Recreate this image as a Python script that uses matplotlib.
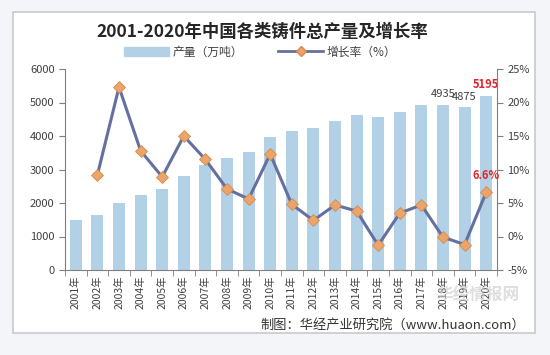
import matplotlib.pyplot as plt
from matplotlib.patches import Rectangle
from matplotlib.lines import Line2D
from matplotlib.ticker import FuncFormatter

plt.rcParams['font.family'] = ['Noto Sans CJK SC', 'DejaVu Sans']

# 数据
years = [f'{y}年' for y in range(2001, 2021)]
output = [1480, 1640, 1987, 2242, 2420, 2810, 3127, 3340, 3530, 3960,
          4150, 4250, 4450, 4620, 4560, 4720, 4940, 4935, 4875, 5195]
growth = [None, 9.2, 22.3, 12.8, 8.9, 15.0, 11.5, 7.1, 5.6, 12.3,
          4.8, 2.4, 4.7, 3.8, -1.3, 3.5, 4.7, -0.1, -1.2, 6.6]

bar_color = '#b3d1e6'
line_color = '#6470a0'
marker_color = '#eba46a'
grey = '#7f7f7f'

fig = plt.figure(figsize=(5.5, 3.55), dpi=100)
fig.patch.set_facecolor('#f3f5f9')

# painel branco com borda
fig.patches.append(Rectangle((13 / 550, 1 - 333 / 355), 522 / 550, 321 / 355,
                             transform=fig.transFigure, facecolor='white',
                             edgecolor='#c9c9c9', lw=1.2, zorder=-5))

ax = fig.add_axes([65 / 550, 1 - 270 / 355, 432 / 550, 201 / 355])
ax.set_facecolor('none')
x = list(range(len(years)))
ax.bar(x, output, width=0.55, color=bar_color, zorder=1)
ax.set_ylim(0, 6000)
ax.set_yticks(range(0, 6001, 1000))
ax.set_xlim(-0.5, len(years) - 0.5)
ax.set_xticks(x)
ax.set_xticklabels(years, rotation=90, fontsize=7.5, color='#404040')
ax.tick_params(axis='x', length=0, pad=4)
ax.set_xticks([i + 0.5 for i in range(-1, len(years))], minor=True)
ax.tick_params(axis='x', which='minor', length=4, color=grey)
ax.tick_params(axis='y', labelsize=8, colors='#404040', length=4, color=grey)
for s in ['top', 'right']:
    ax.spines[s].set_visible(False)
ax.spines['left'].set_color(grey)
ax.spines['bottom'].set_color(grey)

# rótulos das barras
ax.text(17, output[17] + 160, str(output[17]), ha='center', va='bottom',
        fontsize=8, color='#404040')
ax.text(18, output[18] + 130, str(output[18]), ha='center', va='bottom',
        fontsize=8, color='#404040')
ax.text(19, output[19] + 160, str(output[19]), ha='center', va='bottom',
        fontsize=8, color='#e0262b', fontweight='bold')

ax2 = ax.twinx()
gx = [i for i in x if growth[i] is not None]
gy = [growth[i] for i in gx]
ax2.plot(gx, gy, color=line_color, lw=2.2, marker='D', markersize=6,
         markerfacecolor=marker_color, markeredgecolor='#d98a4a',
         markeredgewidth=0.6, zorder=3)
ax2.set_ylim(-5, 25)
ax2.set_yticks(range(-5, 26, 5))
ax2.yaxis.set_major_formatter(FuncFormatter(lambda v, p: f'{v:.0f}%'))
ax2.tick_params(axis='y', labelsize=8, colors='#404040', length=4, color=grey)
for s in ['top', 'left', 'bottom']:
    ax2.spines[s].set_visible(False)
ax2.spines['right'].set_color(grey)
ax2.text(19, growth[19] + 1.5, f'{growth[19]}%', ha='center', va='bottom',
         fontsize=8, color='#e0262b', fontweight='bold')

fig.text(262 / 550, 1 - 32 / 355, '2001-2020年中国各类铸件总产量及增长率',
         ha='center', va='center', fontsize=12.5, fontweight='bold', color='#262626')

handles = [Rectangle((0, 0), 1, 1, color=bar_color),
           Line2D([], [], color=line_color, lw=2, marker='D', markersize=5,
                  markerfacecolor=marker_color, markeredgecolor='#d98a4a')]
fig.legend(handles, ['产量（万吨）', '增长率（%）'], loc='center',
           bbox_to_anchor=(260 / 550, 1 - 52 / 355), ncol=2, frameon=False,
           fontsize=8.5, handlelength=3.8, handleheight=0.8, columnspacing=3,
           handletextpad=0.3, labelcolor='#404040')

# marca d'água
fig.text(478 / 550, 1 - 296 / 355, '华经情报网', ha='center', va='center',
         fontsize=12, color='#c8c8c8', alpha=0.6, fontweight='bold', zorder=5)

fig.text(525 / 550, 1 - 325 / 355, '制图：华经产业研究院（www.huaon.com）',
         ha='right', va='center', fontsize=9.5, color='#333333')

fig.savefig('out.png', dpi=100, facecolor=fig.get_facecolor())
